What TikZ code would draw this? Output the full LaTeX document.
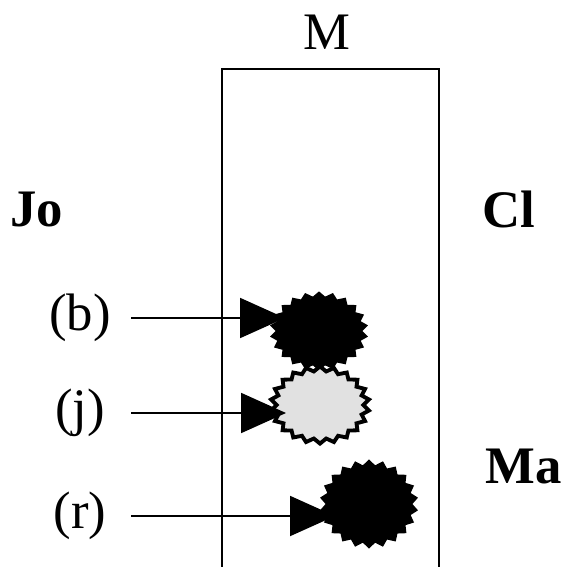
\documentclass[tikz,border=0pt]{standalone}
\usepackage{fontspec}
\setmainfont{Liberation Serif}
\usepackage{tikz}
\usetikzlibrary{shapes.geometric,arrows.meta,positioning,calc}
\definecolor{lightgray}{RGB}{225,225,225}

\begin{document}
\begin{tikzpicture}[x=0.02cm, y=-0.02cm]
\tikzstyle{label} = [inner sep=0pt, minimum width=1.24cm, font=\fontsize{30}{36}\selectfont]
\tikzstyle{side} = [inner sep=0pt, anchor=base west, font=\fontsize{30}{36}\selectfont\bfseries]
\tikzstyle{burst} = [star, star points=22, star point ratio=1.14, minimum size=1.98cm, inner sep=0pt, transform shape]
\tikzstyle{arrow} = [line width=1.1pt, -{Triangle[length=0.9cm, width=0.8cm]}, shorten <=0.4cm, shorten >=0.68cm]

\useasboundingbox (0,0) rectangle (564,567);

% compartment
\draw [line width=1.1pt] (222,567) |- (439,69) -- (439,567);
\node (MLabel) [label, anchor=base] at (327,50) {M};

\node (JoLabel) [side] at (10,227) {Jo};
\node (ClLabel) [side] at (482,228) {Cl};
\node (MaLabel) [side] at (485,483) {Ma};

\node (BLabel) [label] at (80,318) {(b)};
\node (JLabel) [label] at (80,413) {(j)};
\node (RLabel) [label] at (80,516) {(r)};

% bursts
\node (BStar) [burst, fill=black, yscale=0.8] at (319,331) {};
\node (JStar) [burst, fill=lightgray, draw=black, line width=2.2pt, yscale=0.78] at (320,405) {};
\node (RStar) [burst, fill=black, yscale=0.9] at (369,504) {};

\draw [arrow] (BLabel) -- (BLabel -| BStar);
\draw [arrow] (JLabel) -- (JLabel -| JStar);
\draw [arrow] (RLabel) -- (RLabel -| RStar);
\end{tikzpicture}
\end{document}
